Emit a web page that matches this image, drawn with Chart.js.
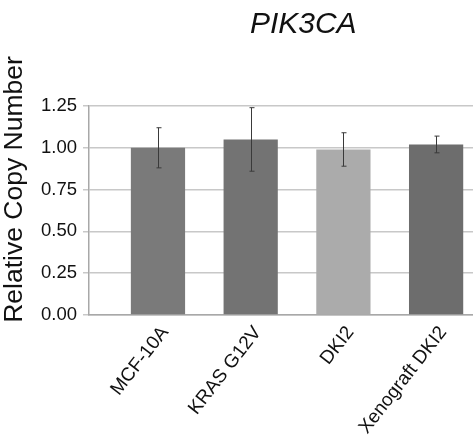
<!DOCTYPE html>
<html>
<head>
<meta charset="utf-8">
<script src="https://cdn.jsdelivr.net/npm/chart.js@4/dist/chart.umd.min.js"></script>
<style>
  html, body { margin: 0; padding: 0; background: #ffffff; overflow: hidden; }
  #wrap { width: 473px; height: 441px; }
</style>
</head>
<body>
<div id="wrap"><canvas id="c" width="473" height="441"></canvas></div>
<script>
// ---- data ----
const TITLE = "PIK3CA";
const Y_TITLE = "Relative Copy Number";
const CATEGORIES = ["MCF-10A", "KRAS G12V", "DKI2", "Xenograft DKI2"];
const VALUES = [1.00, 1.05, 0.99, 1.02];
const ERRORS = [0.12, 0.19, 0.10, 0.05];
const BAR_COLORS = ["#7a7a7a", "#737373", "#ababab", "#6d6d6d"];
const Y_TICKS = [0, 0.25, 0.5, 0.75, 1.0, 1.25];

const FONT = '"Liberation Sans", Arial, Helvetica, sans-serif';

const points = CATEGORIES.map((c, i) => ({ x: i, y: VALUES[i] }));

const errorBarPlugin = {
  id: 'errorBars',
  afterDatasetsDraw(chart) {
    const { ctx, scales } = chart;
    const xs = scales.x, ys = scales.y;
    ctx.save();
    ctx.strokeStyle = '#3a3a3a';
    ctx.lineWidth = 1;
    VALUES.forEach((v, i) => {
      const x = Math.round(xs.getPixelForValue(i)) + 0.5;
      const yt = ys.getPixelForValue(v + ERRORS[i]);
      const yb = ys.getPixelForValue(v - ERRORS[i]);
      ctx.beginPath();
      ctx.moveTo(x, yt); ctx.lineTo(x, yb);
      ctx.moveTo(x - 2, yt); ctx.lineTo(x + 3, yt);
      ctx.moveTo(x - 2, yb); ctx.lineTo(x + 3, yb);
      ctx.stroke();
    });
    ctx.restore();
  }
};

const textPlugin = {
  id: 'texts',
  afterDraw(chart) {
    const { ctx, chartArea } = chart;
    ctx.save();
    ctx.fillStyle = '#111111';
    ctx.textAlign = 'center';
    ctx.textBaseline = 'middle';
    ctx.font = 'italic 30px ' + FONT;
    ctx.fillText(TITLE, chartArea.left + (chartArea.right - chartArea.left) * 0.558, 25);
    ctx.translate(15, (chartArea.top + chartArea.bottom) / 2 - 21);
    ctx.rotate(-Math.PI / 2);
    ctx.font = '26.5px ' + FONT;
    ctx.fillText(Y_TITLE, 0, 0);
    ctx.restore();
  }
};

new Chart(document.getElementById('c'), {
  type: 'bar',
  data: {
    datasets: [{
      data: points,
      backgroundColor: BAR_COLORS,
      borderWidth: 0,
      barPercentage: 0.585,
      categoryPercentage: 1.0
    }]
  },
  options: {
    responsive: false,
    animation: false,
    devicePixelRatio: 1,
    layout: { padding: { top: 106, right: 0, bottom: 0, left: 0 } },
    plugins: { legend: { display: false }, title: { display: false }, tooltip: { enabled: false } },
    scales: {
      x: {
        type: 'linear',
        offset: false,
        min: -0.744,
        max: 3.398,
        afterBuildTicks(scale) { scale.ticks = CATEGORIES.map((c, i) => ({ value: i })); },
        afterFit(scale) { scale.height = 126; },
        grid: { display: false, drawTicks: false, offset: false },
        border: { display: true, color: '#a8a8a8', width: 1.5 },
        ticks: {
          autoSkip: false,
          minRotation: 52,
          maxRotation: 52,
          padding: 7,
          labelOffset: 7,
          color: '#111111',
          font: { family: FONT, size: 19 },
          callback: (v) => CATEGORIES[v] ?? ''
        }
      },
      y: {
        min: 0,
        max: 1.25,
        afterBuildTicks(scale) { scale.ticks = Y_TICKS.map(v => ({ value: v })); },
        afterFit(scale) { scale.width = 89; },
        grid: { color: '#c8c8c8', lineWidth: 1.5, tickLength: 6, drawTicks: true },
        border: { display: true, color: '#a8a8a8', width: 1.5 },
        ticks: {
          padding: 6,
          color: '#111111',
          font: { family: FONT, size: 18.5 },
          callback: (v) => Number(v).toFixed(2)
        }
      }
    }
  },
  plugins: [errorBarPlugin, textPlugin]
});
</script>
</body>
</html>
